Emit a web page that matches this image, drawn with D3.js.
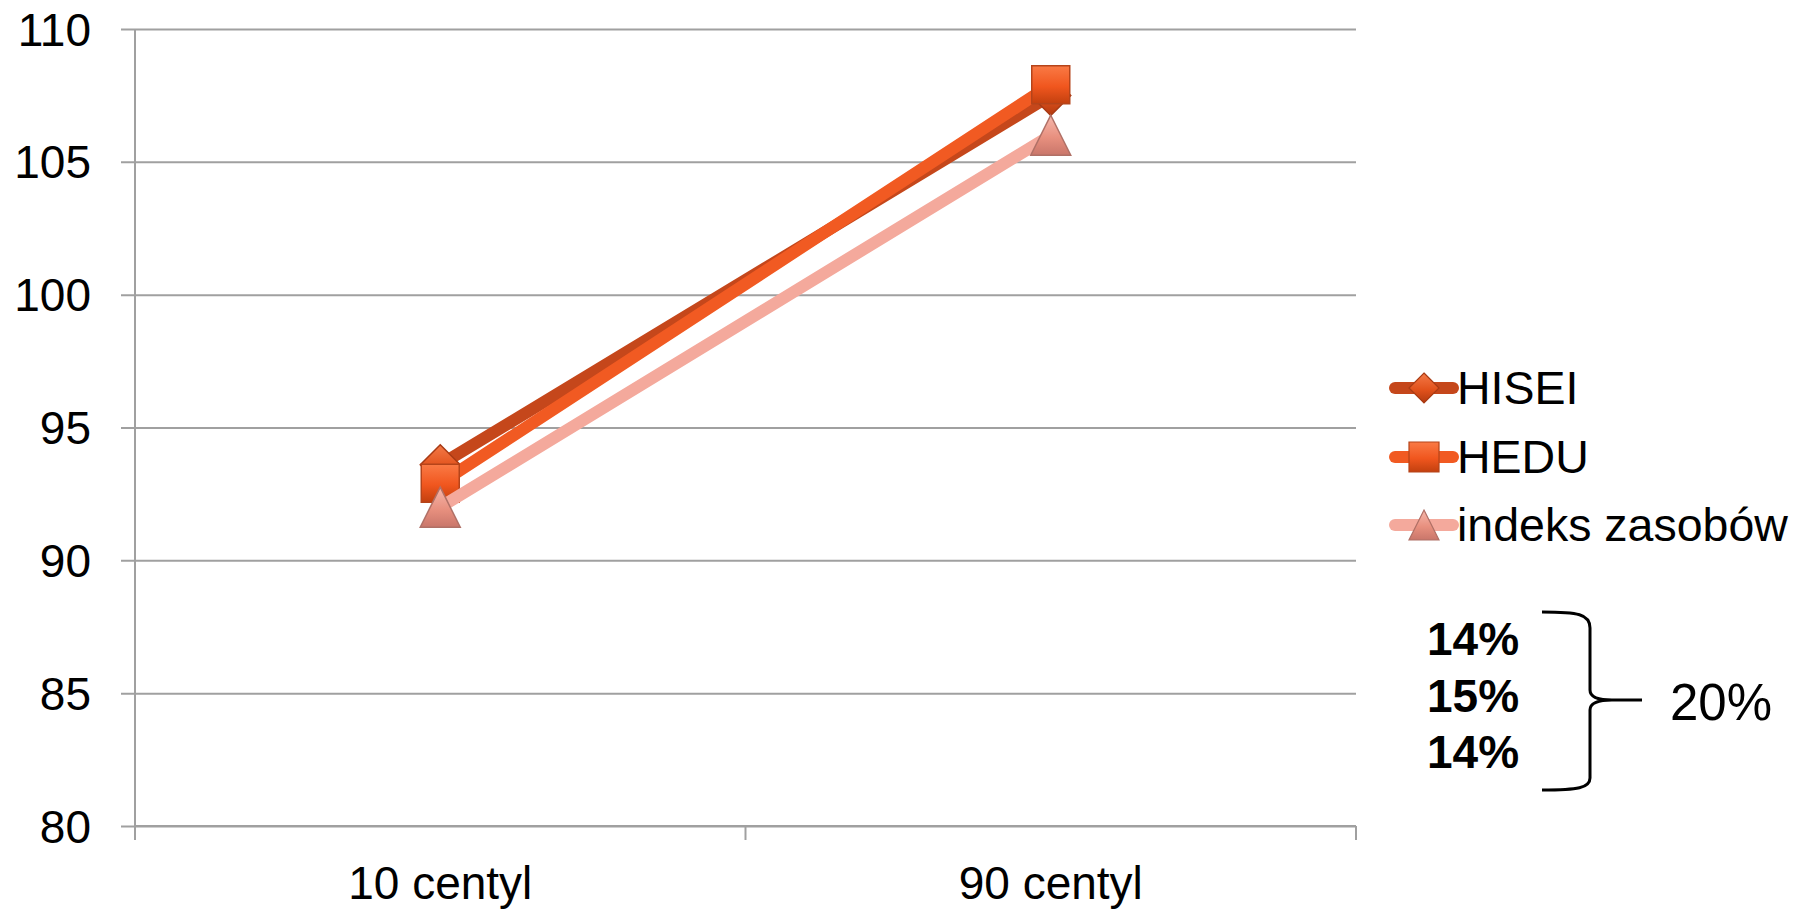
<!DOCTYPE html>
<html>
<head>
<meta charset="utf-8">
<script src="https://cdn.jsdelivr.net/npm/d3@7"></script>
<style>
  html, body { margin: 0; padding: 0; background: #fff; }
  svg { display: block; }
  text { font-family: "Liberation Sans", Arial, sans-serif; fill: #000; }
</style>
</head>
<body>
<svg id="chart" width="1816" height="909"></svg>
<script>
// ---- data ----
const categories = ["10 centyl", "90 centyl"];
const seriesNames = ["HISEI", "HEDU", "indeks zasobów"];
const hiseiValues = [93.6, 107.5];
const heduValues = [92.9, 107.9];
const indeksValues = [92.0, 106.0];
const yTicks = [80, 85, 90, 95, 100, 105, 110];
const diffLabels = ["14%", "15%", "14%"];
const totalLabel = "20%";

const seriesValues = [hiseiValues, heduValues, indeksValues];
const lineColors = ["#C5471B", "#F15A22", "#F4A99C"];
const markerBase = ["#E2521C", "#F0561E", "#E8907F"];
const markerLight = ["#F47A48", "#FA7A45", "#F6B8AC"];
const markerDark = ["#B23A10", "#C2400F", "#C9766A"];
const markerStroke = ["#A83A14", "#B5441A", "#B07066"];
const markerShapes = ["diamond", "square", "triangle"];

const svg = d3.select("#chart");
const plotLeft = 135, plotRight = 1356, plotTop = 29, plotBottom = 826;

const x = d3.scaleBand().domain(categories).range([plotLeft, plotRight]).paddingInner(0).paddingOuter(0);
const y = d3.scaleLinear().domain([80, 110]).range([plotBottom, plotTop]);

// gradients
const defs = svg.append("defs");
seriesNames.forEach((s, i) => {
  const g = defs.append("linearGradient").attr("id", "grad" + i)
    .attr("x1", "0").attr("y1", "0").attr("x2", "0").attr("y2", "1");
  g.append("stop").attr("offset", "0%").attr("stop-color", markerLight[i]);
  g.append("stop").attr("offset", "55%").attr("stop-color", markerBase[i]);
  g.append("stop").attr("offset", "100%").attr("stop-color", markerDark[i]);
});

// gridlines + y axis
const yAxis = d3.axisLeft(y).tickValues(yTicks).tickSize(-(plotRight - plotLeft)).tickPadding(0).tickFormat(d3.format("d"));
const gy = svg.append("g").attr("transform", `translate(${plotLeft},0)`).call(yAxis);
gy.select(".domain").remove();
gy.selectAll(".tick line").attr("x1", -14).attr("stroke", "#A0A0A0").attr("stroke-width", 2);
gy.selectAll(".tick text").attr("x", -44).attr("font-size", 46).attr("dy", "0.35em")
  .style("font-family", "'Liberation Sans', Arial, sans-serif").attr("fill", "#000");

// y axis vertical line
svg.append("line").attr("x1", plotLeft).attr("x2", plotLeft).attr("y1", y(110)).attr("y2", y(80))
  .attr("stroke", "#A0A0A0").attr("stroke-width", 2);

// x axis
const xAxis = d3.axisBottom(x).tickSize(0).tickPadding(0);
const gx = svg.append("g").attr("transform", `translate(0,${plotBottom})`).call(xAxis);
gx.select(".domain").remove();
gx.selectAll(".tick text").attr("y", 73).attr("dy", 0).attr("font-size", 46)
  .style("font-family", "'Liberation Sans', Arial, sans-serif").attr("fill", "#000");
const boundaries = [plotLeft, x(categories[1]), plotRight];
svg.append("g").selectAll("line").data(boundaries).join("line")
  .attr("x1", d => d).attr("x2", d => d).attr("y1", plotBottom).attr("y2", plotBottom + 14)
  .attr("stroke", "#A0A0A0").attr("stroke-width", 2);
svg.append("line").attr("x1", plotLeft).attr("x2", plotRight).attr("y1", plotBottom).attr("y2", plotBottom)
  .attr("stroke", "#A0A0A0").attr("stroke-width", 2);

function markerPath(shape, size) {
  const h = size / 2;
  if (shape === "diamond") return `M0,${-h}L${h},0L0,${h}L${-h},0Z`;
  if (shape === "square") return `M${-h},${-h}H${h}V${h}H${-h}Z`;
  return `M0,${-h}L${h},${h}L${-h},${h}Z`;
}

// series
const line = d3.line().x((d, j) => x(categories[j]) + x.bandwidth() / 2).y(d => y(d));
seriesValues.forEach((vals, i) => {
  const g = svg.append("g");
  g.append("path").datum(vals).attr("d", line).attr("fill", "none")
    .attr("stroke", lineColors[i]).attr("stroke-width", 12).attr("stroke-linecap", "round");
  g.selectAll("path.m").data(vals).join("path").attr("class", "m")
    .attr("transform", (d, j) => `translate(${x(categories[j]) + x.bandwidth() / 2},${y(d)})`)
    .attr("d", markerPath(markerShapes[i], markerShapes[i] === "square" ? 38 : 40))
    .attr("fill", `url(#grad${i})`).attr("stroke", markerStroke[i]).attr("stroke-width", 1.5);
});

// legend
const legendY = [388, 457, 525];
const lg = svg.append("g");
seriesNames.forEach((name, i) => {
  lg.append("line").attr("x1", 1395).attr("x2", 1453).attr("y1", legendY[i]).attr("y2", legendY[i])
    .attr("stroke", lineColors[i]).attr("stroke-width", 12).attr("stroke-linecap", "round");
  lg.append("path").attr("transform", `translate(1424,${legendY[i]})`)
    .attr("d", markerPath(markerShapes[i], 30))
    .attr("fill", `url(#grad${i})`).attr("stroke", markerStroke[i]).attr("stroke-width", 1.2);
  lg.append("text").attr("x", 1457).attr("y", legendY[i] + 16).attr("font-size", 46.5).text(name);
});

// difference labels
const diffY = [655, 712, 768];
svg.append("g").selectAll("text").data(diffLabels).join("text")
  .attr("x", 1427).attr("y", (d, i) => diffY[i]).attr("font-size", 46).attr("font-weight", "bold")
  .text(d => d);

// bracket
svg.append("path")
  .attr("d", "M1542,612 C1578,612 1590,614 1590,628 L1590,690 C1590,698 1600,700 1612,700 L1642,700 M1612,700 C1600,700 1590,702 1590,710 L1590,778 C1590,788 1578,790 1542,790")
  .attr("fill", "none").attr("stroke", "#000").attr("stroke-width", 3);

svg.append("text").attr("x", 1670).attr("y", 720).attr("font-size", 51).text(totalLabel);
</script>
</body>
</html>
